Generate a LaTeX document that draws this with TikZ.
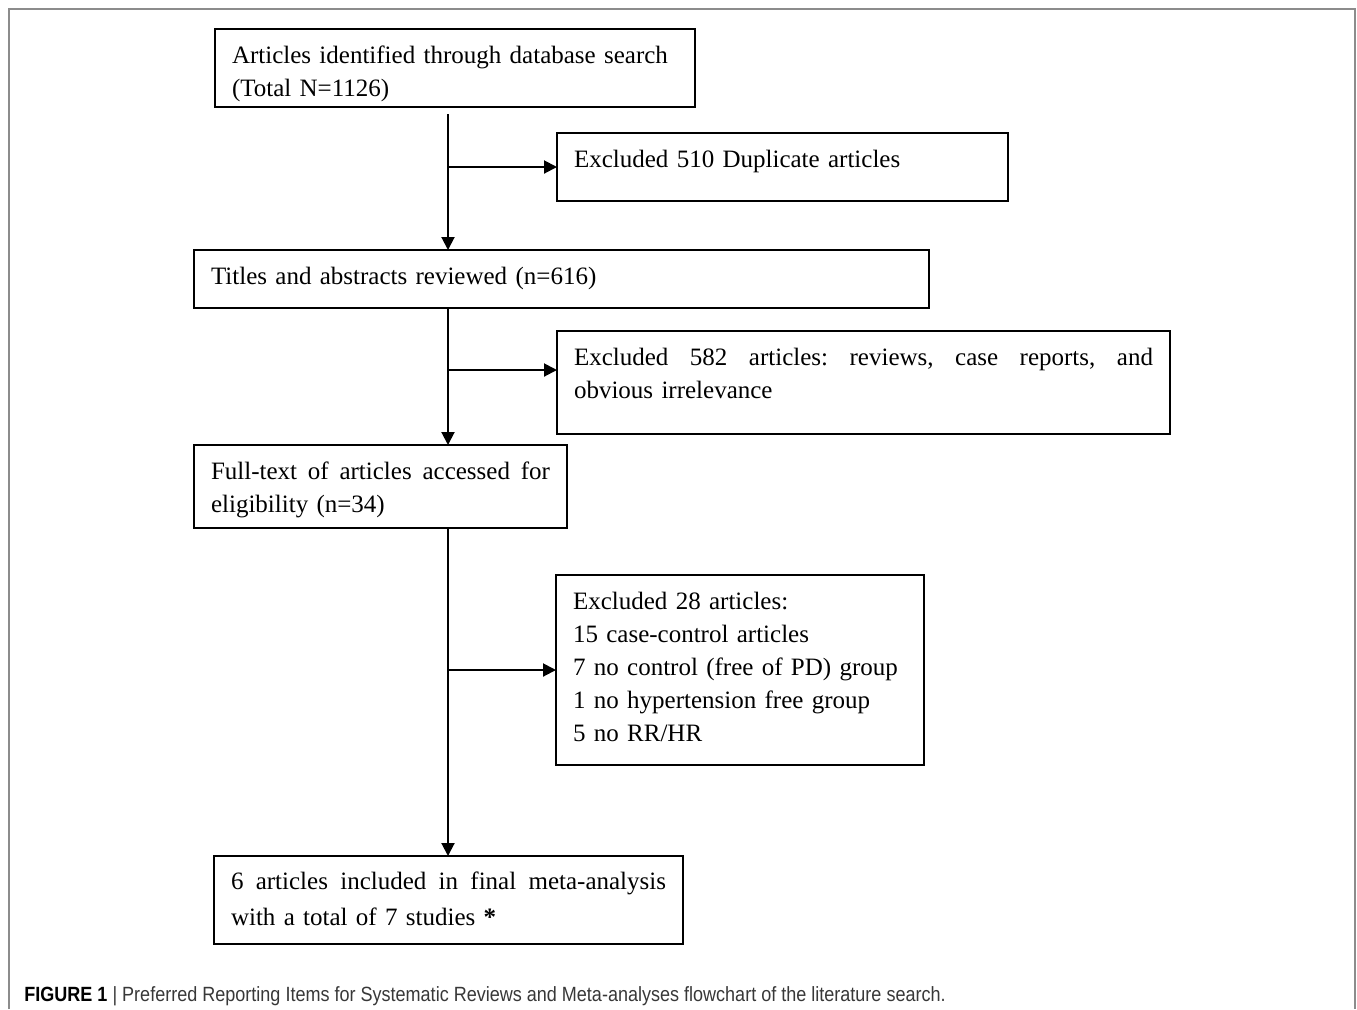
\documentclass[tikz,border=0pt]{standalone}
\usepackage{fontspec}
\setmainfont{Liberation Serif}
\newfontfamily\capfont{Liberation Sans}
\usetikzlibrary{arrows.meta}
\definecolor{framegray}{gray}{0.55}
\definecolor{capgray}{gray}{0.22}
\newcommand{\fullline}[1]{\hbox to\hsize{#1}}

\begin{document}
\begin{tikzpicture}[x=0.5pt,y=-0.5pt]
  \useasboundingbox (0,0) rectangle (1357,1009);
  \draw[framegray,line width=0.7pt] (9,1009) -- (9,9) -- (1355,9) -- (1355,1009);
  \begin{scope}[every node/.style={draw,line width=1.1pt,anchor=north west,outer sep=0pt,
      inner xsep=8.5pt,inner ysep=0pt,align=left,text height=17pt,
      font=\fontsize{12.5}{16.5}\selectfont}]
  \node[text width=223pt,text depth=22pt] (search) at (215,29) {Articles identified through database search\\(Total N=1126)};
  \node[text width=208.5pt,text depth=17pt] (dup) at (557,133) {Excluded 510 Duplicate articles};
  \node[text width=350.5pt,text depth=12pt] (titles) at (194,250) {Titles and abstracts reviewed (n=616)};
  \node[text width=289.5pt,text depth=34.5pt] (excl) at (557,331) {\fullline{Excluded\hfill 582\hfill articles:\hfill reviews,\hfill case\hfill reports,\hfill and}\\obvious irrelevance};
  \node[text width=169.5pt,text depth=24.5pt] (full) at (194,445) {\fullline{Full-text\hfill of\hfill articles\hfill accessed\hfill for}\\eligibility (n=34)};
  \node[text width=167pt,text depth=78pt] (excl2) at (556,575) {Excluded 28 articles:\\15 case-control articles\\7 no control (free of PD) group\\1 no hypertension free group\\5 no RR/HR};
  \node[text width=217.5pt,text height=16.5pt,text depth=27.5pt,font=\fontsize{12.5}{18}\selectfont] (final) at (214,856) {\fullline{6\hfill articles\hfill included\hfill in\hfill final\hfill meta-analysis}\\with a total of 7 studies \textbf{*}};
  \end{scope}
  \coordinate (t1) at (448,114);
  \coordinate (j1) at (448,167);
  \coordinate (j2) at (448,370);
  \coordinate (j3) at (448,670);
  \begin{scope}[every edge/.style={draw=black,line width=1pt,-{Triangle[length=6.5pt,width=6.5pt]}}]
  \path (t1) edge (t1 |- titles.north);
  \path (j1) edge (j1 -| dup.west);
  \path (titles.south -| t1) edge (full.north -| t1);
  \path (j2) edge (j2 -| excl.west);
  \path (full.south -| t1) edge (final.north -| t1);
  \path (j3) edge (j3 -| excl2.west);
  \end{scope}
  \node[anchor=base west,inner sep=0pt,font=\capfont\fontsize{10.3}{12}\selectfont] (cap) at (24,1001)
    {\scalebox{0.875}[1]{\textbf{FIGURE 1} \textcolor{capgray}{| Preferred Reporting Items for Systematic Reviews and Meta-analyses flowchart of the literature search.}}};
\end{tikzpicture}
\end{document}
